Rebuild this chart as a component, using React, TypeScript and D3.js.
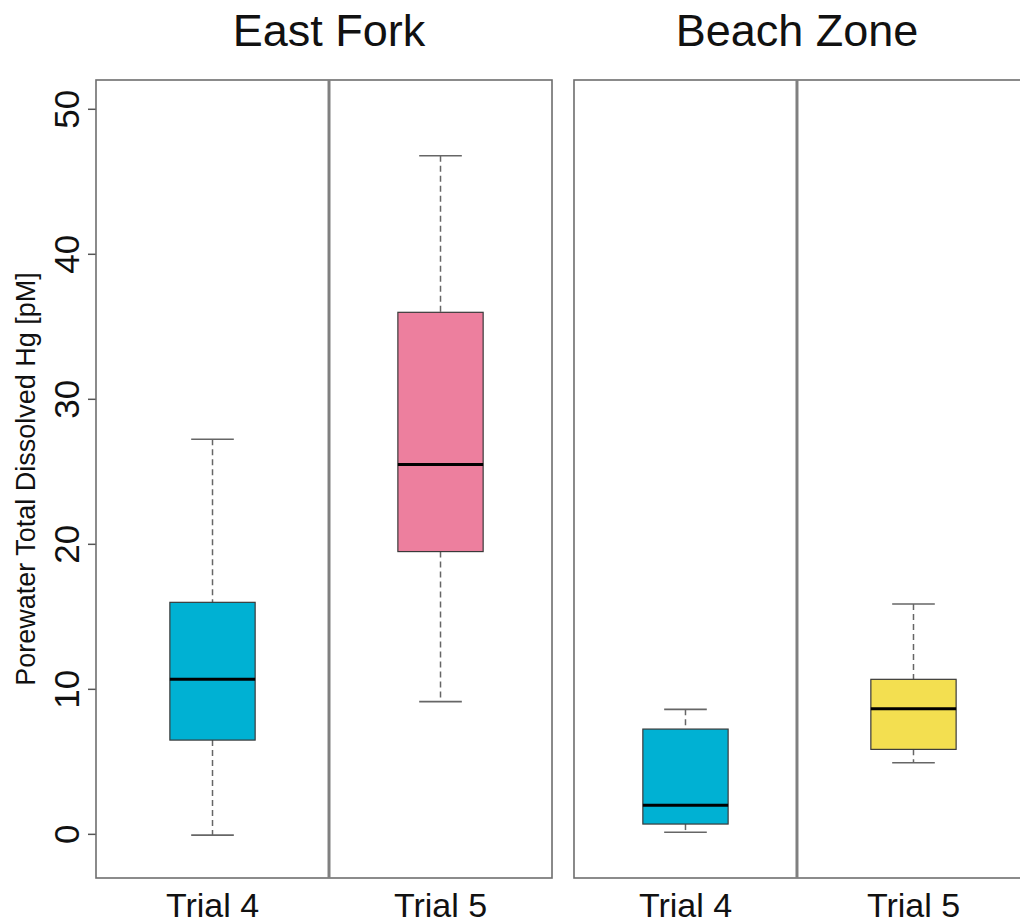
import React from 'react';
import * as d3 from 'd3';

// site groups, trials, and five-number summaries
const sites = ['East Fork', 'Beach Zone'];
const trials = ['Trial 4', 'Trial 5'];
const lowWhisker = [[-0.05, 9.15], [0.14, 4.94]];
const q1 = [[6.5, 19.5], [0.71, 5.86]];
const median = [[10.7, 25.5], [2.0, 8.66]];
const q3 = [[16.0, 36.0], [7.26, 10.69]];
const highWhisker = [[27.25, 46.8], [8.62, 15.88]];
const boxColors = [['#00B1D3', '#ED7F9E'], ['#00B1D3', '#F3DF50']];
const yTicks = [0, 10, 20, 30, 40, 50];

const width = 1020;
const height = 924;
const margin = { top: 80, right: -10, bottom: 46, left: 96 };
// where the inner divider sits inside each site panel (fraction of panel width)
const splitFrac = [0.511, 0.489];

function App() {
  const innerBottom = height - margin.bottom;

  const y = d3.scaleLinear()
    .domain([-3.01, 52.02])
    .range([innerBottom, margin.top]);

  const siteScale = d3.scaleBand()
    .domain(sites)
    .range([margin.left, width - margin.right])
    .paddingInner(0.046);

  const bw = siteScale.bandwidth();
  const boxW = bw * 0.187;
  const capW = boxW / 2;
  const font = '"Liberation Sans", Arial, Helvetica, sans-serif';

  return (
    <svg width={width} height={height} style={{ display: 'block', position: 'absolute', left: 0, top: 0 }}
      fontFamily={font}>
      <rect width={width} height={height} fill="white" />

      {/* y axis */}
      <g>
        {yTicks.map(t => (
          <g key={t} transform={`translate(${margin.left},${y(t)})`}>
            <line x1={-8} x2={0} stroke="#555" strokeWidth={1.5} />
            <text transform="translate(-17,0) rotate(-90)" textAnchor="middle" fontSize={35} fill="#111">{t}</text>
          </g>
        ))}
        <text transform={`translate(35,${(margin.top + innerBottom) / 2}) rotate(-90)`}
          textAnchor="middle" fontSize={27} fill="#111">Porewater Total Dissolved Hg [pM]</text>
      </g>

      {sites.map((site, si) => {
        const x0 = siteScale(site)!;
        const xDiv = x0 + bw * splitFrac[si];
        const bands = [[x0, xDiv], [xDiv, x0 + bw]];
        return (
          <g key={site}>
            <text x={xDiv} y={46} textAnchor="middle" fontSize={45} fill="#111">{site}</text>
            <rect x={x0} y={margin.top} width={bw} height={innerBottom - margin.top}
              fill="none" stroke="#6e6e6e" strokeWidth={1.6} />
            <line x1={xDiv} x2={xDiv} y1={margin.top} y2={innerBottom} stroke="#808080" strokeWidth={3} />
            {trials.map((trial, ti) => {
              const cx = (bands[ti][0] + bands[ti][1]) / 2;
              return (
                <g key={trial}>
                  {/* whiskers */}
                  <line x1={cx} x2={cx} y1={y(highWhisker[si][ti])} y2={y(q3[si][ti])}
                    stroke="#666" strokeWidth={1.5} strokeDasharray="6,4" />
                  <line x1={cx} x2={cx} y1={y(q1[si][ti])} y2={y(lowWhisker[si][ti])}
                    stroke="#666" strokeWidth={1.5} strokeDasharray="6,4" />
                  <line x1={cx - capW / 2} x2={cx + capW / 2} y1={y(highWhisker[si][ti])} y2={y(highWhisker[si][ti])}
                    stroke="#666" strokeWidth={1.6} />
                  <line x1={cx - capW / 2} x2={cx + capW / 2} y1={y(lowWhisker[si][ti])} y2={y(lowWhisker[si][ti])}
                    stroke="#666" strokeWidth={1.6} />
                  {/* box */}
                  <rect x={cx - boxW / 2} y={y(q3[si][ti])} width={boxW} height={y(q1[si][ti]) - y(q3[si][ti])}
                    fill={boxColors[si][ti]} stroke="#3a3a3a" strokeWidth={1.2} />
                  <line x1={cx - boxW / 2} x2={cx + boxW / 2} y1={y(median[si][ti])} y2={y(median[si][ti])}
                    stroke="#000" strokeWidth={3} />
                  <text x={cx} y={917} textAnchor="middle" fontSize={34} fill="#111">{trial}</text>
                </g>
              );
            })}
          </g>
        );
      })}
    </svg>
  );
}

export default App;
